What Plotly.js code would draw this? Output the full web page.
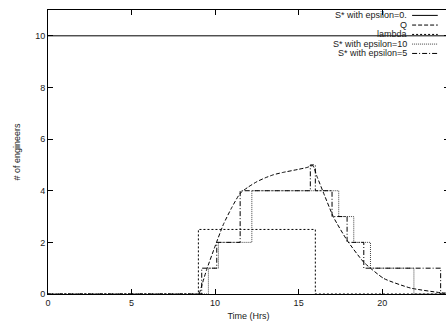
<!DOCTYPE html>
<html>
<head>
<meta charset="utf-8">
<script src="https://cdn.plot.ly/plotly-3.0.1.min.js"></script>
<style>
html,body{margin:0;padding:0;overflow:hidden;background:#fff;width:446px;height:327px;}
#chart{width:450px;height:327px;}
</style>
</head>
<body>
<div id="chart"></div>
<script>
// S* with epsilon=0. (constant)
const eps0X = [0, 24];
const eps0Y = [10, 10];
// Q (smooth curve)
const qX = [9.05, 9.5, 10, 10.5, 11, 11.5, 12, 12.5, 13, 13.5, 14, 15, 15.5, 15.85, 16.1, 16.5, 17.1, 17.9, 18.9, 20.1, 21.7, 23.5, 24];
const qY = [0, 0.95, 1.85, 2.7, 3.35, 3.9, 4.15, 4.35, 4.5, 4.62, 4.7, 4.83, 4.9, 4.97, 4.55, 3.9, 2.96, 2.08, 1.23, 0.6, 0.23, 0.05, 0.03];
// lambda (step)
const lamX = [0, 9.0, 16.0, 24];
const lamY = [0, 2.5, 0, 0];
// S* with epsilon=10 (step)
const eps10X = [0, 9.6, 10.2, 12.2, 17.4, 18.3, 19.3, 21.9, 24];
const eps10Y = [0, 1, 2, 4, 3, 2, 1, 0, 0];
// S* with epsilon=5 (step)
const eps5X = [0, 9.2, 10.1, 11.5, 15.7, 16.0, 17.0, 17.9, 18.9, 23.5, 24];
const eps5Y = [0, 1, 2, 4, 5, 4, 3, 2, 1, 0, 0];

const xTicks = [0, 5, 10, 15, 20];
const yTicks = [0, 2, 4, 6, 8, 10];

const legendNames = ["S* with epsilon=0.", "Q", "lambda", "S* with epsilon=10", "S* with epsilon=5"];
const legendDash = ["solid", "4px,2px", "2px,2px", "1px,1px", "5px,2px,1px,2px"];
const legendColor = ["#000", "#000", "#000", "#444", "#000"];

const FONT = "Liberation Sans, Arial, sans-serif";

const traces = [
  {x: eps0X, y: eps0Y, mode: "lines", line: {color: legendColor[0], width: 1, dash: legendDash[0]}, name: legendNames[0]},
  {x: qX, y: qY, mode: "lines", line: {color: legendColor[1], width: 1, dash: legendDash[1], shape: "spline", smoothing: 0.5}, name: legendNames[1]},
  {x: lamX, y: lamY, mode: "lines", line: {color: legendColor[2], width: 1, dash: legendDash[2], shape: "hv"}, name: legendNames[2]},
  {x: eps10X, y: eps10Y, mode: "lines", line: {color: legendColor[3], width: 1, dash: legendDash[3], shape: "hv"}, name: legendNames[3]},
  {x: eps5X, y: eps5Y, mode: "lines", line: {color: legendColor[4], width: 1, dash: legendDash[4], shape: "hv"}, name: legendNames[4]}
];

// manual gnuplot-style key: text right-aligned, sample to the right
const keyY = [0.981, 0.947, 0.914, 0.880, 0.847];
const annotations = legendNames.map((n, i) => ({
  xref: "paper", yref: "paper", x: 0.899, y: keyY[i], xanchor: "right", yanchor: "middle",
  text: n, showarrow: false, font: {family: FONT, size: 9, color: "#1a1a1a"}, borderpad: 0
}));
const shapes = legendNames.map((n, i) => ({
  type: "line", xref: "paper", yref: "paper", x0: 0.908, x1: 0.972, y0: keyY[i], y1: keyY[i],
  line: {color: legendColor[i], width: 1, dash: legendDash[i]}
}));

const layout = {
  width: 450, height: 327,
  margin: {l: 48, r: 1, t: 10, b: 33},
  paper_bgcolor: "#fff", plot_bgcolor: "#fff",
  showlegend: false,
  font: {family: FONT, size: 9, color: "#1a1a1a"},
  xaxis: {
    range: [0, 24], tickvals: xTicks, ticktext: xTicks.map(String),
    ticks: "inside", ticklen: 5, tickcolor: "#000", tickwidth: 1,
    showline: true, linecolor: "#000", linewidth: 1, mirror: "ticks",
    showgrid: false, zeroline: false,
    tickfont: {family: FONT, size: 9, color: "#1a1a1a"},
    title: {text: "Time (Hrs)", font: {family: FONT, size: 9, color: "#1a1a1a"}, standoff: 5}
  },
  yaxis: {
    range: [0, 11], tickvals: yTicks, ticktext: yTicks.map(String),
    ticks: "inside", ticklen: 5, tickcolor: "#000", tickwidth: 1,
    showline: true, linecolor: "#000", linewidth: 1, mirror: "ticks",
    showgrid: false, zeroline: false,
    tickfont: {family: FONT, size: 9, color: "#1a1a1a"},
    title: {text: "# of engineers", font: {family: FONT, size: 9, color: "#1a1a1a"}, standoff: 13}
  },
  annotations: annotations,
  shapes: shapes
};

Plotly.newPlot("chart", traces, layout, {staticPlot: true, displayModeBar: false});
</script>
</body>
</html>
